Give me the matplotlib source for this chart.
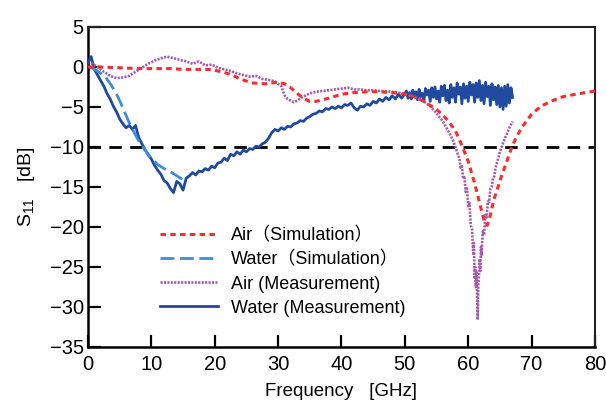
import numpy as np
import matplotlib

matplotlib.use("Agg")

import matplotlib.pyplot as plt

plt.rcParams["font.family"] = ["Liberation Sans", "Noto Sans CJK JP", "DejaVu Sans"]
plt.rcParams["mathtext.fontset"] = "custom"
plt.rcParams["mathtext.rm"] = "Liberation Sans"
plt.rcParams["mathtext.it"] = "Liberation Sans"

# Air (Simulation)
air_sim_f = [0, 2, 5, 8, 10, 13, 15, 17, 19, 20, 22, 23, 24, 26, 28, 30, 31, 32, 33, 34,
             35, 36, 37, 38, 40, 42, 44, 46, 48, 50, 51, 52, 53, 54, 55, 56, 57, 58, 59,
             60, 61, 61.8, 62.5, 63.0, 63.5, 64.0, 64.7, 65.3, 66.0, 66.8, 67.5, 68.5,
             70, 71.5, 73, 75, 77, 80]
air_sim_s = [0.0, 0.0, -0.1, -0.2, -0.2, -0.2, -0.3, -0.3, -0.3, -0.4, -0.8, -1.1, -1.5,
             -2.0, -2.1, -1.9, -2.1, -2.6, -3.3, -3.9, -4.3, -4.3, -4.1, -3.9, -3.4, -3.2,
             -3.1, -3.1, -3.2, -3.4, -3.6, -3.9, -4.3, -4.8, -5.3, -6.0, -6.9, -8.0, -9.8,
             -11.8, -14.5, -17.0, -19.2, -19.8, -18.5, -16.7, -15.0, -13.5, -12.0, -10.2,
             -8.9, -7.5, -5.9, -4.9, -4.3, -3.7, -3.4, -3.0]

# Water (Simulation)
water_sim_f = [0.3, 1.5, 2.7, 3.7, 4.7, 5.5, 6.3, 7.1, 7.9, 9.0, 10.0, 11.0, 12.0, 13.0,
               14.0, 15.0]
water_sim_s = [0.0, -0.5, -1.2, -2.3, -3.7, -5.1, -6.6, -7.9, -9.1, -10.4, -11.4, -12.2,
               -12.7, -13.1, -13.6, -14.1]

# Air (Measurement)
air_meas_f = [0.5, 1.5, 2.5, 3.5, 4.5, 5.5, 6.5, 7.5, 8.5, 9.5, 10.5, 11.5, 12.5, 13.5,
              14.5, 15.5, 16.5, 17.5, 18.5, 19.5, 20.5, 21.5, 22.5, 23.5, 24.5, 25.5, 26.5,
              27.5, 28.5, 29.5, 30.5, 31.0, 31.5, 32.5, 33.0, 34.0, 35.0, 36.0, 37.0, 38.0,
              39.0, 40.0, 41.0, 42.0, 43.0, 44.0, 45.0, 46.0, 47.0, 48.0, 49.0, 50.0, 51.0,
              52.0, 53.0, 54.0, 55.0, 56.0, 57.0, 57.5, 58.0, 58.3,
              58.6, 58.8, 59.0, 59.2, 59.4, 59.6, 59.8, 60.0, 60.2, 60.4, 60.6, 60.8, 60.9,
              61.0, 61.1, 61.2, 61.3, 61.4, 61.5, 61.6, 61.7, 61.8, 61.9, 62.0, 62.1, 62.3,
              62.5, 62.7, 62.9, 63.1, 63.3, 63.5, 63.7, 63.9, 64.1, 64.3, 64.6, 65.0, 65.5,
              66.0, 66.5, 67.0]
air_meas_s = [0.5, 0.0, -0.6, -1.1, -1.4, -1.3, -1.1, -0.6, -0.1, 0.4, 0.8, 1.1, 1.3, 1.1,
              0.9, 0.7, 0.4, 0.7, 0.2, 0.3, -0.1, -0.3, -0.5, -0.8, -1.0, -1.2, -1.1, -1.5,
              -1.6, -1.8, -2.4, -3.5, -4.0, -4.4, -4.2, -3.7, -3.3, -3.1, -3.0, -2.9, -2.8,
              -2.7, -2.6, -2.8, -2.8, -2.9, -2.9, -3.0, -3.0, -3.1, -3.2, -3.4, -3.6, -3.9,
              -4.3, -4.9, -5.8, -6.8, -8.2, -9.0, -10.0, -10.8,
              -11.4, -12.6, -12.4, -13.9, -13.8, -15.6, -15.2, -17.4, -17.0, -19.8, -20.2,
              -23.5, -22.0, -26.5, -25.0, -27.5, -25.5, -28.5, -31.6, -27.0, -26.0, -24.0,
              -25.5, -22.5, -23.5, -20.5, -21.0, -18.5, -18.8, -16.8, -16.9, -15.2, -15.0,
              -13.9, -13.7, -12.6, -11.8, -10.6, -9.5, -8.5, -7.6, -6.8]

# Water (Measurement): 0.5 GHz steps to 50 GHz, 0.25 GHz steps to 67 GHz
water_meas_f = np.concatenate([np.arange(0, 50.01, 0.5), np.arange(50.25, 67.01, 0.25)])
water_meas_s = [0.5, 1.3, -0.3, -1.0, -1.7, -2.4, -3.3, -4.0, -4.9, -5.6,
                -6.5, -7.1, -7.6, -7.3, -7.8, -7.3, -8.8, -9.6, -10.3, -11.0,
                -11.5, -12.3, -12.9, -13.4, -14.2, -14.5, -15.2, -15.7, -14.3, -14.6,
                -15.4, -13.9, -13.6, -13.2, -13.5, -13.0, -13.1, -12.7, -12.9, -12.4,
                -12.6, -12.0, -11.9, -11.4, -11.7, -10.9, -11.1, -10.6, -10.9, -10.4,
                -10.6, -10.2, -10.3, -9.9, -10.0, -9.6, -9.4, -8.9, -8.2, -7.8,
                -8.0, -7.6, -7.8, -7.4, -7.5, -7.1, -7.0, -6.7, -6.8, -6.4,
                -6.2, -5.9, -5.8, -5.5, -5.6, -5.2, -5.3, -5.0, -5.2, -4.9,
                -5.1, -4.7, -4.8, -4.5, -5.1, -5.4, -4.9, -5.0, -4.6, -4.8,
                -4.3, -4.5, -4.0, -4.3, -3.8, -4.1, -3.6, -4.0, -3.4, -3.9,
                -3.3,
                -3.0, -3.9, -3.2, -4.0, -2.9, -3.6, -3.1, -4.1, -2.8, -3.7,
                -3.3, -4.2, -2.7, -3.5, -2.9, -4.3, -2.6, -3.8, -2.5, -4.0,
                -3.0, -4.4, -2.4, -3.6, -2.3, -4.2, -2.9, -4.5, -2.2, -3.8,
                -2.6, -4.4, -2.0, -3.4, -2.5, -4.6, -2.1, -3.9, -2.4, -4.3,
                -1.9, -3.5, -2.2, -4.4, -2.0, -3.8, -1.7, -4.2, -2.3, -4.6,
                -1.9, -3.7, -2.4, -4.8, -2.1, -4.1, -2.5, -4.7, -2.3, -5.0,
                -2.6, -5.3, -2.4, -4.9, -2.2, -4.5, -2.6, -3.8]

fig = plt.figure(figsize=(6.06, 4.04), dpi=100)
ax = fig.add_axes([0.1452, 0.1411, 0.8366, 0.7921])

ax.axhline(-10, color="black", lw=2, dashes=(4.5, 3), zorder=1)

ax.plot(water_meas_f, water_meas_s, color="#1f4aa0", lw=2.0, zorder=3,
        label="Water (Measurement)")
ax.plot(air_meas_f, air_meas_s, color="#a55bb0", lw=1.9, dashes=(0.8, 0.5), zorder=4,
        label="Air (Measurement)")
ax.plot(water_sim_f, water_sim_s, color="#3b8fd8", lw=2.0, dashes=(5, 2), zorder=5,
        label="Water\uff08Simulation\uff09")
ax.plot(air_sim_f, air_sim_s, color="#ff2a2a", lw=2.2, dashes=(1.8, 1.4), zorder=6,
        label="Air\uff08Simulation\uff09")

handles, labels = ax.get_legend_handles_labels()
order = [3, 2, 1, 0]
ax.legend([handles[i] for i in order], [labels[i] for i in order],
          loc="upper left", bbox_to_anchor=(0.142, 0.376), frameon=False,
          fontsize=13, handlelength=3.2, handletextpad=0.75, labelspacing=0.4,
          borderpad=0, borderaxespad=0)

ax.set_xlim(0, 80)
ax.set_ylim(-35, 5)
ax.set_xticks(np.arange(0, 81, 10))
ax.set_yticks(np.arange(-35, 6, 5))

for side in ["left", "bottom"]:
    ax.spines[side].set_linewidth(1.8)
    ax.spines[side].set_color("black")
for side in ["top", "right"]:
    ax.spines[side].set_linewidth(1.5)
    ax.spines[side].set_color("#222222")

ax.tick_params(axis="both", direction="in", length=9, width=1.6, labelsize=14.5,
               top=False, right=False)
ax.tick_params(axis="x", pad=6)
ax.tick_params(axis="y", pad=3)

ax.set_xlabel("Frequency   [GHz]", fontsize=13.5, labelpad=6)
ax.set_ylabel(r"$\mathregular{S_{11}}$   [dB]", fontsize=14, labelpad=9)

fig.savefig("out.png", dpi=100)
